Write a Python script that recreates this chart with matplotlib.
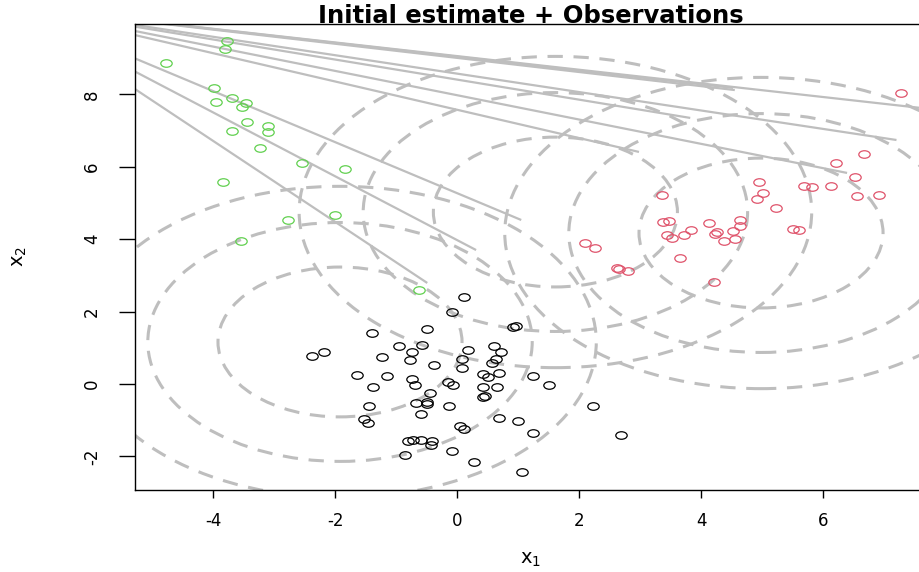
import numpy as np
import matplotlib
matplotlib.use("Agg")
import matplotlib.pyplot as plt
from matplotlib.patches import Ellipse
from matplotlib.path import Path
from matplotlib.transforms import Affine2D

# observations, one cluster per colour
black_x = [0.12, -0.09, 0.96, 0.92, -1.40, -0.49, -0.95, -0.58, -0.74, 0.17,
           -2.38, -2.18, -1.23, -0.77, -0.38, 0.08, 0.60, 0.72, 0.63, 0.57,
           0.08, -1.64, -1.15, -0.74, -0.69, -1.38, -0.15, -0.07, 0.42, 0.51,
           0.69, 0.42, 0.65, -0.45, 0.43, 0.46, -1.44, -0.67, -0.50, -0.50,
           -0.14, -0.60, -1.52, -1.46, 0.68, 0.99, 0.05, 0.12, -0.81, -0.73,
           -0.60, -0.41, -0.43, -0.09, -0.86, 0.28, 1.06, 1.25, 1.51, 2.22,
           2.68, 1.25]
black_y = [2.41, 1.99, 1.60, 1.57, 1.42, 1.53, 1.05, 1.08, 0.88, 0.94,
           0.76, 0.88, 0.74, 0.65, 0.53, 0.70, 1.05, 0.88, 0.70, 0.57,
           0.43, 0.25, 0.22, 0.14, -0.03, -0.08, 0.05, -0.03, 0.28, 0.20,
           0.31, -0.08, -0.08, -0.26, -0.35, -0.33, -0.60, -0.52, -0.49, -0.55,
           -0.60, -0.82, -0.96, -1.07, -0.93, -1.02, -1.16, -1.24, -1.59, -1.55,
           -1.54, -1.57, -1.68, -1.84, -1.96, -2.15, -2.44, 0.23, -0.03, -0.60,
           -1.42, -1.36]

red_x = [7.27, 6.67, 6.21, 6.52, 5.69, 5.81, 6.13, 6.55, 6.92, 4.95,
         5.01, 4.92, 5.23, 3.35, 3.37, 3.47, 4.12, 4.63, 4.63, 3.44,
         3.52, 3.72, 3.84, 4.26, 4.23, 4.52, 4.38, 4.55, 5.51, 5.61,
         3.66, 2.09, 2.26, 2.62, 2.66, 2.80, 4.21]
red_y = [8.03, 6.35, 6.10, 5.71, 5.48, 5.43, 5.48, 5.19, 5.22, 5.59,
         5.28, 5.11, 4.85, 5.22, 4.48, 4.51, 4.46, 4.54, 4.37, 4.12,
         4.03, 4.12, 4.25, 4.21, 4.15, 4.23, 3.95, 4.01, 4.28, 4.25,
         3.49, 3.89, 3.75, 3.20, 3.17, 3.12, 2.81]

green_x = [-3.78, -3.81, -4.78, -3.98, -3.96, -3.69, -3.46, -3.52, -3.44, -3.10,
           -3.10, -3.69, -3.23, -2.55, -1.84, -3.84, -2.00, -2.78, -3.55, -0.63]
green_y = [9.48, 9.25, 8.86, 8.17, 7.78, 7.89, 7.77, 7.64, 7.24, 7.13,
           6.96, 6.99, 6.53, 6.10, 5.93, 5.59, 4.66, 4.54, 3.94, 2.59]

# initial estimate: component centres and contour radii
centre_x = [-1.92, 1.61, 4.98]
centre_y = [1.16, 4.75, 4.17]
radius_x = [2.0, 3.15, 4.2]
radius_y = [2.07, 3.3, 4.3]

# gray lines, all leaving the same point outside the plot
line_origin = (-7.33, 10.44)
line_end_x = [-0.49, 0.31, 1.05, 2.98, 3.82, 4.52, 4.55, 6.39, 7.20, 8.0]
line_end_y = [2.79, 3.70, 4.53, 6.41, 7.35, 8.18, 8.12, 5.83, 6.74, 7.55]

plt.rcParams['font.family'] = ['DejaVu Sans']
plt.rcParams['axes.unicode_minus'] = False

fig = plt.figure(figsize=(9.2, 5.72), dpi=100)
W, H = 920, 572
ax = fig.add_axes([135 / W, (H - 490) / H, (927 - 135) / W, (490 - 24) / H])

gray = '#BEBEBE'

# open oval markers, like the stretched R circles
oval = Affine2D().scale(1.0, 0.66).transform_path(Path.unit_circle())
for xs, ys, col in [(black_x, black_y, 'black'),
                    (red_x, red_y, '#DF536B'),
                    (green_x, green_y, '#61D04F')]:
    ax.plot(xs, ys, ls='none', marker=oval, ms=8.2, mfc='none', mec=col,
            mew=0.9, zorder=3)

for ex, ey in zip(line_end_x, line_end_y):
    ax.plot([line_origin[0], ex], [line_origin[1], ey], color=gray, lw=1.6,
            solid_capstyle='butt', zorder=2)

for cx, cy in zip(centre_x, centre_y):
    for rx, ry in zip(radius_x, radius_y):
        ax.add_patch(Ellipse((cx, cy), 2 * rx, 2 * ry, fill=False,
                             edgecolor=gray, lw=2.2,
                             linestyle=(0, (5, 3.5)), zorder=1))

ax.set_xlim(-5.28, 7.70)
ax.set_ylim(-2.93, 9.945)
ax.set_xticks([-4, -2, 0, 2, 4, 6])
ax.set_yticks([-2, 0, 2, 4, 6, 8])
ax.tick_params(axis='x', length=6, width=1, pad=10, labelsize=12)
ax.tick_params(axis='y', length=11.5, width=1, pad=13, labelsize=12,
               labelrotation=90)
for lab in ax.get_yticklabels():
    lab.set_va('center')
for sp in ax.spines.values():
    sp.set_linewidth(1.0)

ax.set_xlabel(r'$\mathregular{x_1}$', fontsize=14, labelpad=14)
fig.text(20 / W, 1 - 257 / H, r'$\mathregular{x_2}$', fontsize=14,
         rotation=90, ha='center', va='center')
fig.text(531 / W, 1 - 23 / H, 'Initial estimate + Observations',
         fontsize=17.5, fontweight='bold', ha='center', va='baseline')

fig.savefig('out.png', dpi=100)
